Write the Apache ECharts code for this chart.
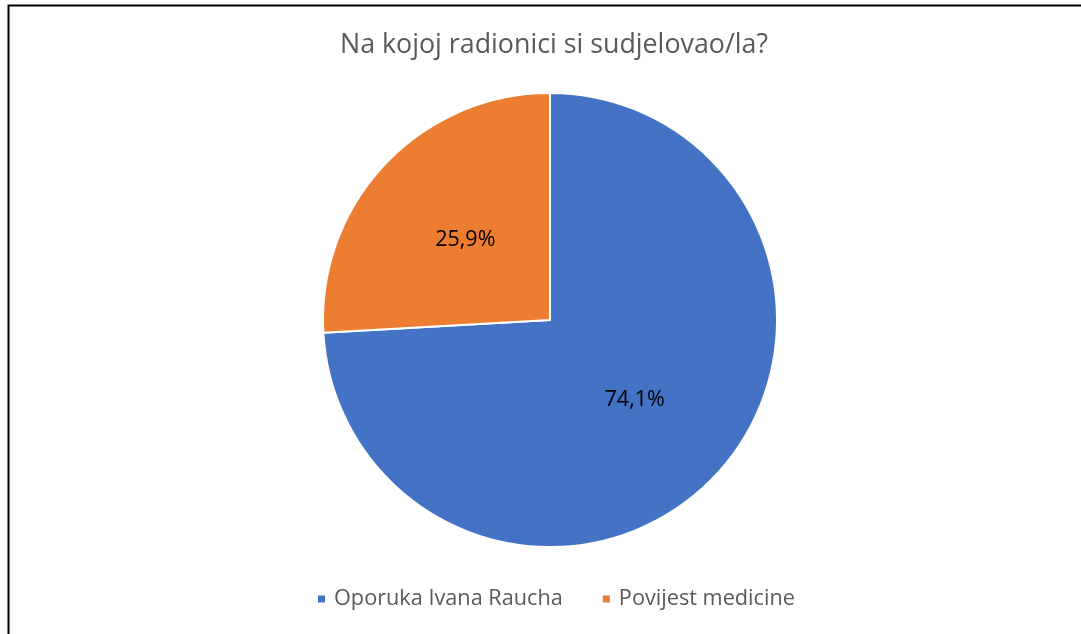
<!DOCTYPE html>
<html>
<head>
<meta charset="utf-8">
<script src="https://cdn.jsdelivr.net/npm/echarts@6/dist/echarts.min.js"></script>
<style>
html,body{margin:0;padding:0;background:#fff;}
#c{width:1081px;height:634px;}
</style>
</head>
<body>
<div id="c"></div>
<script>
const titleText = 'Na kojoj radionici si sudjelovao/la?';
const categories = ['Oporuka Ivana Raucha', 'Povijest medicine'];
const values = [74.1, 25.9];
const colors = ['#4472C4', '#ED7D31'];

const chart = echarts.init(document.getElementById('c'));
chart.setOption({
  animation: false,
  graphic: [{
    type: 'rect',
    shape: {x: 8.5, y: 5.5, width: 1200, height: 800},
    style: {fill: 'none', stroke: '#000', lineWidth: 2},
    z: 100
  }],
  title: {
    text: titleText,
    left: 335,
    top: 27,
    textStyle: {fontFamily: 'Open Sans', fontSize: 26.8, fontWeight: 'normal', color: '#595959'}
  },
  legend: {
    bottom: 19,
    left: 311,
    itemWidth: 9,
    itemHeight: 9,
    itemGap: 38,
    icon: 'rect',
    textStyle: {fontFamily: 'Open Sans', fontSize: 21.7, color: '#595959', padding: [0, 0, 0, 3]},
    data: categories
  },
  series: [{
    type: 'pie',
    center: [550, 320],
    radius: [0, 227],
    startAngle: 90,
    clockwise: true,
    itemStyle: {borderColor: '#fff', borderWidth: 2},
    label: {
      position: 'inside',
      formatter: p => p.value.toFixed(1).replace('.', ',') + '%',
      fontFamily: 'Open Sans',
      fontSize: 21.5,
      color: '#000'
    },
    labelLine: {show: false},
    emphasis: {disabled: true},
    data: categories.map((c, i) => ({name: c, value: values[i], itemStyle: {color: colors[i]}}))
  }]
});
</script>
</body>
</html>
